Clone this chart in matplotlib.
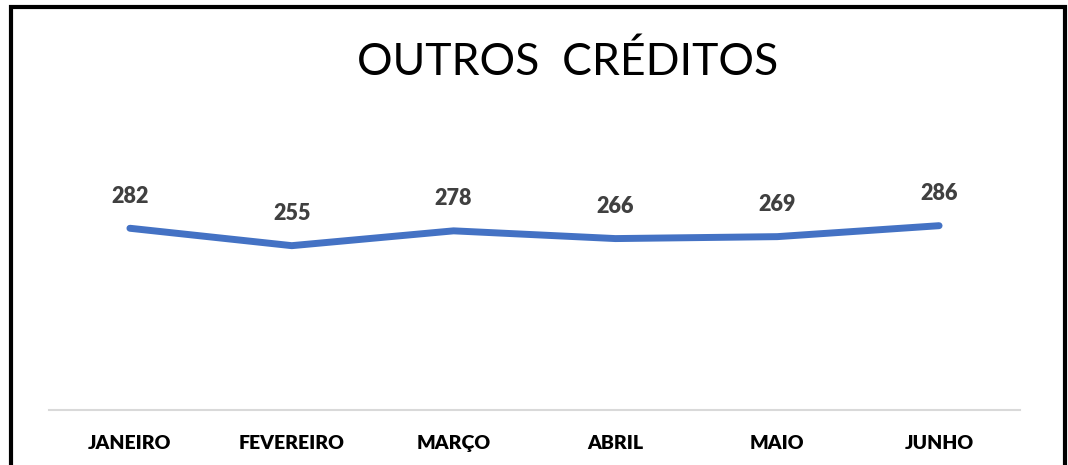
import matplotlib
matplotlib.use("Agg")
import matplotlib.pyplot as plt
from matplotlib.patches import Rectangle

months = ["JANEIRO", "FEVEREIRO", "MARÇO", "ABRIL", "MAIO", "JUNHO"]
values = [282, 255, 278, 266, 269, 286]
title = "OUTROS  CRÉDITOS"

W, H = 1068, 465
fig = plt.figure(figsize=(W / 100, H / 100), dpi=100)
ax = fig.add_axes([49 / W, (H - 410) / H, (1020 - 49) / W, (410 - 120) / H])

x = list(range(len(months)))
ax.plot(x, values, color="#4472C4", linewidth=5, solid_capstyle="round",
        solid_joinstyle="round")
for xi, v in zip(x, values):
    ax.annotate(str(v), (xi, v), xytext=(0, 23), textcoords="offset points",
                ha="center", va="center", fontsize=15.5, fontweight="heavy",
                color="#404040", family="Lato")

ax.set_xlim(-0.5, len(months) - 0.5)
ax.set_ylim(0, 450)
ax.set_xticks(x)
ax.set_xticklabels(months, fontsize=14, fontweight="heavy", family="Lato",
                   color="black")
ax.tick_params(axis="x", length=0, pad=18)
ax.set_yticks([])
for s in ["top", "left", "right"]:
    ax.spines[s].set_visible(False)
ax.spines["bottom"].set_color("#D9D9D9")
ax.spines["bottom"].set_linewidth(1.5)

fig.text(568 / W, 1 - 62 / H, title, ha="center", va="center",
         fontsize=32, family="Lato", color="black")

fig.patches.append(Rectangle((10.5 / W, -0.1), (1064.5 - 10.5) / W, 1.1 - 7.5 / H,
                             transform=fig.transFigure, fill=False,
                             edgecolor="black", linewidth=3))

fig.savefig("out.png", dpi=100)
